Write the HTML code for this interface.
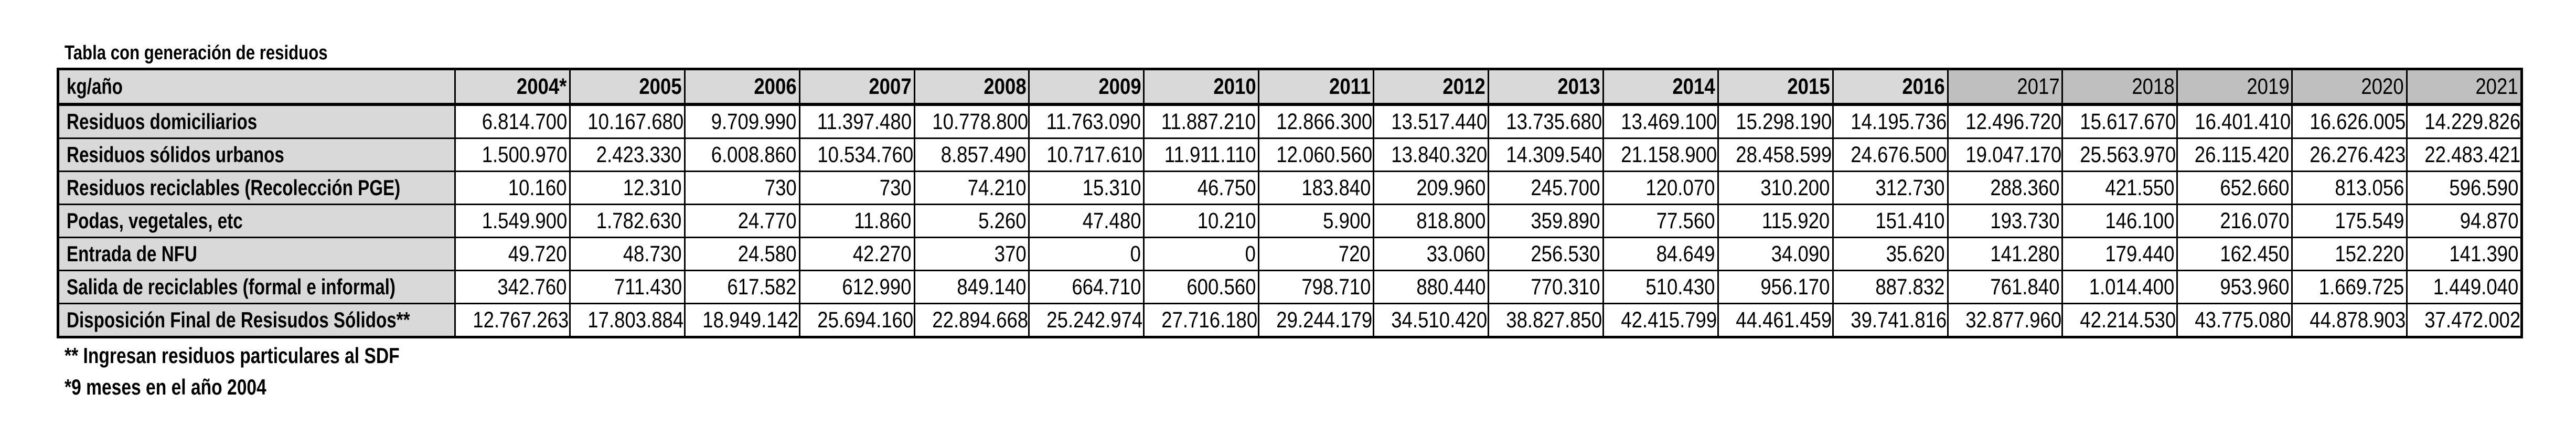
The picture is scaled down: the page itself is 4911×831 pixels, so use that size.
<!DOCTYPE html>
<html><head><meta charset="utf-8"><style>
html,body{margin:0;padding:0;background:#fff;width:4911px;height:831px;overflow:hidden}
body{font-family:"Liberation Sans Narrow","Liberation Sans",sans-serif;color:#000;position:relative}
.t{position:absolute;left:123px;top:80px;font-weight:bold;font-size:38px;transform:scaleX(0.82);transform-origin:left}
.f{position:absolute;left:123px;font-weight:bold;font-size:42px;transform:scaleX(0.8);transform-origin:left}
table{position:absolute;left:108px;top:129px;border-collapse:collapse;table-layout:fixed;width:4697px}
td{border:3px solid #000;font-size:43px;text-align:right;padding:0 4px 0 0;height:60px;line-height:1;white-space:nowrap;overflow:hidden}
td span{display:inline-block;transform:scaleX(0.85);transform-origin:right}
td.l{text-align:left;padding-left:14px;background:#d9d9d9;font-weight:bold;font-size:42px}
td.l span{transform:scaleX(0.79);transform-origin:left}
tr.h td{background:#d9d9d9;font-weight:bold;height:62px;border-bottom:6px solid #000;border-top:5px solid #000}
tr.h td.d{background:#bfbfbf;font-weight:normal}
tr.last td{border-bottom:5px solid #000}
td:first-child{border-left:5px solid #000}
td:last-child{border-right:5px solid #000}
</style></head><body>
<div class="t">Tabla con generación de residuos</div>
<table>
<colgroup><col style="width:757px"><col span="18" style="width:218.9px"></colgroup>
<tr class="h"><td class="l"><span>kg/año</span></td><td><span>2004*</span></td><td><span>2005</span></td><td><span>2006</span></td><td><span>2007</span></td><td><span>2008</span></td><td><span>2009</span></td><td><span>2010</span></td><td><span>2011</span></td><td><span>2012</span></td><td><span>2013</span></td><td><span>2014</span></td><td><span>2015</span></td><td><span>2016</span></td><td class="d"><span>2017</span></td><td class="d"><span>2018</span></td><td class="d"><span>2019</span></td><td class="d"><span>2020</span></td><td class="d"><span>2021</span></td></tr>
<tr><td class="l"><span>Residuos domiciliarios</span></td><td><span>6.814.700</span></td><td><span>10.167.680</span></td><td><span>9.709.990</span></td><td><span>11.397.480</span></td><td><span>10.778.800</span></td><td><span>11.763.090</span></td><td><span>11.887.210</span></td><td><span>12.866.300</span></td><td><span>13.517.440</span></td><td><span>13.735.680</span></td><td><span>13.469.100</span></td><td><span>15.298.190</span></td><td><span>14.195.736</span></td><td><span>12.496.720</span></td><td><span>15.617.670</span></td><td><span>16.401.410</span></td><td><span>16.626.005</span></td><td><span>14.229.826</span></td></tr>
<tr><td class="l"><span>Residuos sólidos urbanos</span></td><td><span>1.500.970</span></td><td><span>2.423.330</span></td><td><span>6.008.860</span></td><td><span>10.534.760</span></td><td><span>8.857.490</span></td><td><span>10.717.610</span></td><td><span>11.911.110</span></td><td><span>12.060.560</span></td><td><span>13.840.320</span></td><td><span>14.309.540</span></td><td><span>21.158.900</span></td><td><span>28.458.599</span></td><td><span>24.676.500</span></td><td><span>19.047.170</span></td><td><span>25.563.970</span></td><td><span>26.115.420</span></td><td><span>26.276.423</span></td><td><span>22.483.421</span></td></tr>
<tr><td class="l"><span>Residuos reciclables (Recolección PGE)</span></td><td><span>10.160</span></td><td><span>12.310</span></td><td><span>730</span></td><td><span>730</span></td><td><span>74.210</span></td><td><span>15.310</span></td><td><span>46.750</span></td><td><span>183.840</span></td><td><span>209.960</span></td><td><span>245.700</span></td><td><span>120.070</span></td><td><span>310.200</span></td><td><span>312.730</span></td><td><span>288.360</span></td><td><span>421.550</span></td><td><span>652.660</span></td><td><span>813.056</span></td><td><span>596.590</span></td></tr>
<tr><td class="l"><span>Podas, vegetales, etc</span></td><td><span>1.549.900</span></td><td><span>1.782.630</span></td><td><span>24.770</span></td><td><span>11.860</span></td><td><span>5.260</span></td><td><span>47.480</span></td><td><span>10.210</span></td><td><span>5.900</span></td><td><span>818.800</span></td><td><span>359.890</span></td><td><span>77.560</span></td><td><span>115.920</span></td><td><span>151.410</span></td><td><span>193.730</span></td><td><span>146.100</span></td><td><span>216.070</span></td><td><span>175.549</span></td><td><span>94.870</span></td></tr>
<tr><td class="l"><span>Entrada de NFU</span></td><td><span>49.720</span></td><td><span>48.730</span></td><td><span>24.580</span></td><td><span>42.270</span></td><td><span>370</span></td><td><span>0</span></td><td><span>0</span></td><td><span>720</span></td><td><span>33.060</span></td><td><span>256.530</span></td><td><span>84.649</span></td><td><span>34.090</span></td><td><span>35.620</span></td><td><span>141.280</span></td><td><span>179.440</span></td><td><span>162.450</span></td><td><span>152.220</span></td><td><span>141.390</span></td></tr>
<tr><td class="l"><span>Salida de reciclables (formal e informal)</span></td><td><span>342.760</span></td><td><span>711.430</span></td><td><span>617.582</span></td><td><span>612.990</span></td><td><span>849.140</span></td><td><span>664.710</span></td><td><span>600.560</span></td><td><span>798.710</span></td><td><span>880.440</span></td><td><span>770.310</span></td><td><span>510.430</span></td><td><span>956.170</span></td><td><span>887.832</span></td><td><span>761.840</span></td><td><span>1.014.400</span></td><td><span>953.960</span></td><td><span>1.669.725</span></td><td><span>1.449.040</span></td></tr>
<tr class="last"><td class="l"><span>Disposición Final de Resisudos Sólidos**</span></td><td><span>12.767.263</span></td><td><span>17.803.884</span></td><td><span>18.949.142</span></td><td><span>25.694.160</span></td><td><span>22.894.668</span></td><td><span>25.242.974</span></td><td><span>27.716.180</span></td><td><span>29.244.179</span></td><td><span>34.510.420</span></td><td><span>38.827.850</span></td><td><span>42.415.799</span></td><td><span>44.461.459</span></td><td><span>39.741.816</span></td><td><span>32.877.960</span></td><td><span>42.214.530</span></td><td><span>43.775.080</span></td><td><span>44.878.903</span></td><td><span>37.472.002</span></td></tr>
</table>
<div class="f" style="top:654px">** Ingresan residuos particulares al SDF</div>
<div class="f" style="top:714px">*9 meses en el año 2004</div>
</body></html>
